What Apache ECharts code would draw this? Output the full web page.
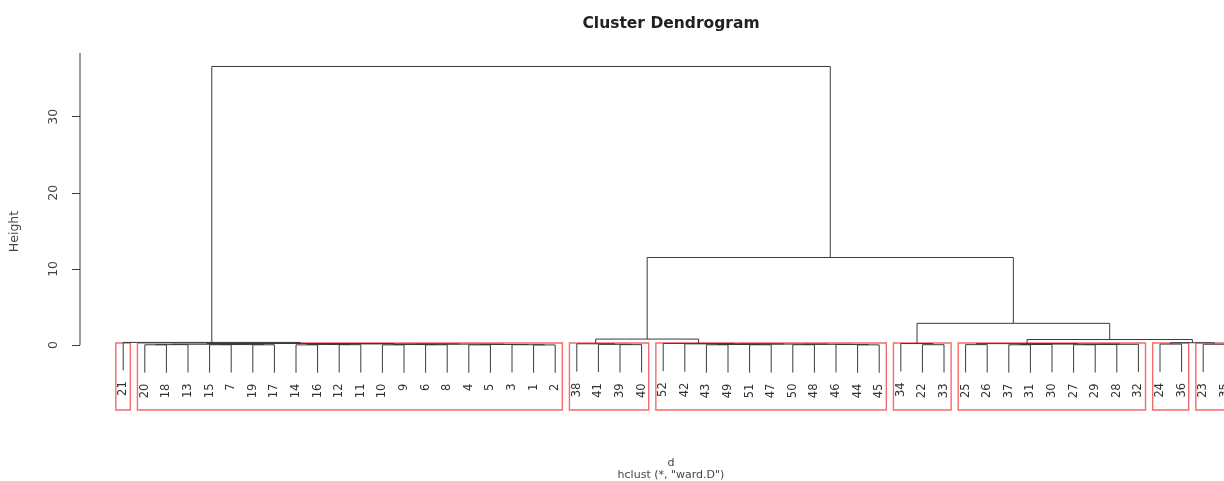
<!DOCTYPE html>
<html>
<head>
<meta charset="utf-8">
<script src="https://cdn.jsdelivr.net/npm/echarts@6/dist/echarts.min.js"></script>
<style>
  html, body { margin: 0; padding: 0; background: #ffffff; }
  #chart { width: 1224px; height: 481px; }
</style>
</head>
<body>
<div id="chart"></div>
<script>
// hclust result (ward.D): merge matrix in R convention
// negative = observation number, positive = earlier merge row (1-based)
const mergeLeft = [
  -1, -10, -4, -14, -20, -6, -19, -12, -15, -3, 5, 2, 3, 9, 4, 12, 11, 15, 17,
  -39, -41, -38,
  -44, -43, -51, -50, -46, 24, 26, 28, -42, -52,
  -22, -34,
  -25, -37, 36, -27, 38, 39, 37, 35,
  -24, -23,
  -21, 43, 42, 22, 34, 48, 45
];
const mergeRight = [
  -2, -9, -5, -16, -18, -8, -17, -11, -7, 1, -13, 6, 10, 7, 8, 13, 14, 16, 18,
  -40, 20, 21,
  -45, -49, -47, -48, 23, 25, 27, 29, 30, 31,
  -33, 33,
  -26, -31, -30, -29, -28, -32, 40, 41,
  -36, -35,
  19, 44, 46, 32, 47, 49, 50
];
const mergeHeight = [
  0.01, 0.02, 0.02, 0.02, 0.03, 0.03, 0.03, 0.04, 0.04, 0.04, 0.05, 0.06, 0.07, 0.06, 0.07, 0.11, 0.10, 0.14, 0.20,
  0.05, 0.09, 0.16,
  0.02, 0.03, 0.03, 0.04, 0.06, 0.07, 0.09, 0.12, 0.15, 0.21,
  0.04, 0.19,
  0.05, 0.03, 0.07, 0.04, 0.06, 0.09, 0.13, 0.18,
  0.12, 0.10,
  0.34, 0.30, 0.72, 0.78, 2.85, 11.5, 36.6
];
const clusterCount = 8;            // rect.hclust(k = 8)
const yTickValues = [0, 10, 20, 30];
const titleText = 'Cluster Dendrogram';
const xLabelText = 'd';
const subText = 'hclust (*, "ward.D")';
const yLabelText = 'Height';

// ---- layout of the tree in data space ----
const nMerge = mergeLeft.length;
const order = [];
(function walk(ref) {
  if (ref < 0) { order.push(-ref); return; }
  walk(mergeLeft[ref - 1]);
  walk(mergeRight[ref - 1]);
})(nMerge);
const posOf = {};
order.forEach((obs, i) => { posOf[obs] = i + 1; });

const nodeX = [];
const xOf = ref => (ref < 0 ? posOf[-ref] : nodeX[ref - 1]);
for (let i = 0; i < nMerge; i++) nodeX[i] = (xOf(mergeLeft[i]) + xOf(mergeRight[i])) / 2;

const maxH = Math.max(...mergeHeight);
const hang = 0.1 * maxH;
const yOf = (ref, parentH) => (ref < 0 ? parentH - hang : mergeHeight[ref - 1]);

const branchData = [];
const leafData = [];
for (let i = 0; i < nMerge; i++) {
  const h = mergeHeight[i];
  const l = mergeLeft[i], r = mergeRight[i];
  branchData.push([nodeX[i], h, xOf(l), yOf(l, h), xOf(r), yOf(r, h)]);
  [l, r].forEach(ref => {
    if (ref < 0) leafData.push([posOf[-ref], h - hang, String(-ref)]);
  });
}

// clusters from cutting between the (k-1)th and kth highest merges
const sortedH = mergeHeight.slice().sort((a, b) => b - a);
const cutH = (sortedH[clusterCount - 2] + sortedH[clusterCount - 1]) / 2;
const spans = [];
function leafSpan(ref) {
  if (ref < 0) return [posOf[-ref], posOf[-ref]];
  const a = leafSpan(mergeLeft[ref - 1]), b = leafSpan(mergeRight[ref - 1]);
  return [Math.min(a[0], b[0]), Math.max(a[1], b[1])];
}
(function cut(ref) {
  if (ref > 0 && mergeHeight[ref - 1] > cutH) {
    cut(mergeLeft[ref - 1]);
    cut(mergeRight[ref - 1]);
  } else {
    spans.push(leafSpan(ref));
  }
})(nMerge);

const yMin = -8.54, yMax = 38.37;
const xMin = -1, xMax = 54.04;
const rectData = spans.map(s => [s[0] - 1 + 0.66, s[1] + 0.33, cutH]);

const LINE = '#3a3a3a';
const FONT = '"DejaVu Sans", "Liberation Sans", sans-serif';

const chart = echarts.init(document.getElementById('chart'), null, { renderer: 'canvas' });
chart.setOption({
  animation: false,
  backgroundColor: '#ffffff',
  grid: {
    left: 80, top: 53, width: (xMax - xMin) * 21.6, height: 357,
    containLabel: false, outerBoundsMode: 'none'
  },
  xAxis: { type: 'value', min: xMin, max: xMax, show: false },
  yAxis: {
    type: 'value', min: yMin, max: yMax,
    axisLine: { show: false, onZero: false },
    splitLine: { show: false },
    axisTick: { show: true, length: 8, customValues: yTickValues, lineStyle: { color: LINE, width: 1 } },
    axisLabel: {
      customValues: yTickValues, rotate: 90, margin: 20,
      fontFamily: FONT, fontSize: 12.5, color: '#444'
    }
  },
  graphic: [
    { type: 'text', x: 671, y: 24, style: { text: titleText, font: 'bold 15.5px ' + FONT, fill: '#222', align: 'center', verticalAlign: 'middle' } },
    { type: 'text', x: 671, y: 463, style: { text: xLabelText, font: '11px ' + FONT, fill: '#444', align: 'center', verticalAlign: 'middle' } },
    { type: 'text', x: 671, y: 475, style: { text: subText, font: '11px ' + FONT, fill: '#444', align: 'center', verticalAlign: 'middle' } },
    { type: 'text', x: 15, y: 231.5, rotation: Math.PI / 2, style: { text: yLabelText, font: '12.5px ' + FONT, fill: '#444', align: 'center', verticalAlign: 'middle' } }
  ],
  series: [
    {
      // y axis line from 0 to the top of the plot region
      type: 'custom', clip: false, silent: true,
      data: [[xMin, 0]],
      renderItem: (params, api) => {
        const a = api.coord([xMin, 0]), b = api.coord([xMin, yMax]);
        return { type: 'line', shape: { x1: a[0], y1: a[1], x2: b[0], y2: b[1] }, style: { stroke: LINE, lineWidth: 1 } };
      }
    },
    {
      // cluster rectangles
      type: 'custom', clip: false, silent: true,
      data: rectData,
      encode: { x: [0, 1], y: 2 },
      renderItem: (params, api) => {
        const p1 = api.coord([api.value(0), api.value(2)]);
        const p2 = api.coord([api.value(1), yMin]);
        return {
          type: 'rect',
          shape: { x: p1[0], y: p1[1], width: p2[0] - p1[0], height: p2[1] - p1[1] },
          style: { stroke: '#f04646', fill: null, lineWidth: 1.4, opacity: 0.8 }
        };
      }
    },
    {
      // dendrogram branches
      type: 'custom', clip: false, silent: true,
      data: branchData,
      encode: { x: 0, y: 1 },
      renderItem: (params, api) => {
        const h = api.value(1);
        const pts = [
          api.coord([api.value(2), api.value(3)]),
          api.coord([api.value(2), h]),
          api.coord([api.value(4), h]),
          api.coord([api.value(4), api.value(5)])
        ];
        return { type: 'polyline', shape: { points: pts }, style: { stroke: LINE, fill: null, lineWidth: 1 } };
      }
    },
    {
      // leaf labels
      type: 'custom', clip: false, silent: true,
      data: leafData,
      encode: { x: 0, y: 1 },
      renderItem: (params, api) => {
        const p = api.coord([api.value(0), api.value(1)]);
        return {
          type: 'text', x: p[0], y: p[1] + 11, rotation: Math.PI / 2,
          style: { text: leafData[params.dataIndex][2], font: '11.5px ' + FONT, fill: '#333', align: 'right', verticalAlign: 'middle' }
        };
      }
    }
  ]
});
</script>
</body>
</html>
